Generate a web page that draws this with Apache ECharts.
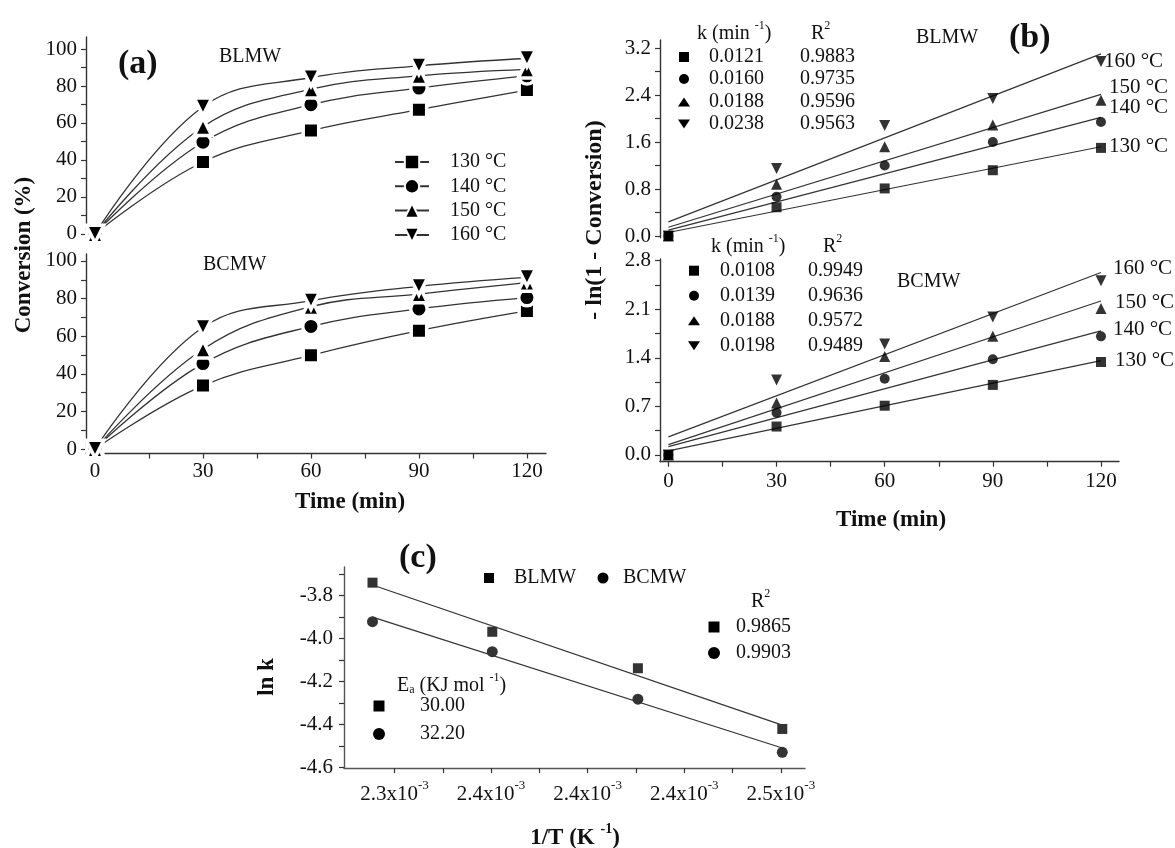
<!DOCTYPE html>
<html><head><meta charset="utf-8">
<script src="https://cdn.jsdelivr.net/npm/echarts@6/dist/echarts.min.js"></script>
<style>html,body{margin:0;padding:0;background:#fff}#c{width:1175px;height:848px}</style>
</head><body><div id="c"></div>
<script>
// ---------- data ----------
const timeMin = [0, 30, 60, 90, 120];
const tempLabels = ['130 °C', '140 °C', '150 °C', '160 °C'];

// (a) conversion (%)
const convBLMW_130 = [0, 38.9, 55.9, 67.2, 77.8];
const convBLMW_140 = [0, 49.6, 69.9, 78.9, 85.5];
const convBLMW_150 = [0, 58.0, 78.3, 85.5, 89.0];
const convBLMW_160 = [0, 68.8, 84.6, 90.9, 95.0];
const convBCMW_130 = [0, 33.7, 49.8, 62.9, 73.4];
const convBCMW_140 = [0, 45.4, 65.2, 74.5, 80.5];
const convBCMW_150 = [0, 53.0, 75.7, 82.4, 88.5];
const convBCMW_160 = [0, 64.7, 78.9, 86.5, 91.3];

// (b) -ln(1 - conversion)
const lnBLMW_130 = [0, 0.49, 0.81, 1.12, 1.50];
const lnBLMW_140 = [0, 0.67, 1.20, 1.60, 1.94];
const lnBLMW_150 = [0, 0.88, 1.52, 1.89, 2.31];
const lnBLMW_160 = [0, 1.15, 1.88, 2.34, 2.97];
const lnBCMW_130 = [0, 0.41, 0.71, 1.01, 1.34];
const lnBCMW_140 = [0, 0.61, 1.10, 1.38, 1.71];
const lnBCMW_150 = [0, 0.75, 1.42, 1.71, 2.11];
const lnBCMW_160 = [0, 1.08, 1.60, 1.99, 2.51];
const fitBLMW_start = [0.06, 0.10, 0.15, 0.24];
const fitBLMW_end = [1.52, 2.02, 2.41, 3.10];
const fitBCMW_start = [0.06, 0.12, 0.15, 0.26];
const fitBCMW_end = [1.36, 1.79, 2.22, 2.63];
const kBLMW = ['0.0121', '0.0160', '0.0188', '0.0238'];
const r2BLMW = ['0.9883', '0.9735', '0.9596', '0.9563'];
const kBCMW = ['0.0108', '0.0139', '0.0188', '0.0198'];
const r2BCMW = ['0.9949', '0.9636', '0.9572', '0.9489'];

// (c) Arrhenius
const invT = [0.0023109, 0.0023605, 0.0024208, 0.0024806];
const lnkBLMW = [-3.739, -3.968, -4.138, -4.421];
const lnkBCMW = [-3.921, -4.061, -4.282, -4.530];
const fitArrBLMW = [-3.750, -4.403];
const fitArrBCMW = [-3.900, -4.510];
const arrR2 = ['0.9865', '0.9903'];
const arrEa = ['30.00', '32.20'];

// ticks
const ticksA_Y = [0, 20, 40, 60, 80, 100];
const minorA_Y = [10, 30, 50, 70, 90];
const ticksTime = [0, 30, 60, 90, 120];
const minorTime = [15, 45, 75, 105];
const ticksB1_Y = [0, 0.8, 1.6, 2.4, 3.2];
const minorB1_Y = [0.4, 1.2, 2.0, 2.8];
const ticksB2_Y = [0, 0.7, 1.4, 2.1, 2.8];
const minorB2_Y = [0.35, 1.05, 1.75, 2.45];
const ticksC_Y = [-4.6, -4.4, -4.2, -4.0, -3.8];
const minorC_Y = [-4.5, -4.3, -4.1, -3.9, -3.7];
const ticksC_X = [0.00232, 0.00236, 0.00240, 0.00244, 0.00248];
const minorC_X = [0.00234, 0.00238, 0.00242, 0.00246];

// ---------- helpers ----------
const FONT = '"Liberation Serif", "Times New Roman", serif';
const INK = '#111';
const syms = ['rect', 'circle', 'triangle', 'triangle'];
const rots = [0, 0, 0, 180];
const pair = (xs, ys) => xs.map((x, i) => [x, ys[i]]);

function valAxis(grid, min, max, ticks, minor, fmt, margin, extra) {
  return Object.assign({
    type: 'value', gridIndex: grid, min, max,
    splitLine: { show: false },
    axisLine: { show: true, onZero: false, lineStyle: { color: '#333', width: 1.4 } },
    axisTick: { show: true, customValues: ticks.concat(minor), length: 5, lineStyle: { color: '#333', width: 1.2 } },
    axisLabel: { show: true, customValues: ticks, formatter: fmt, margin, fontFamily: FONT, fontSize: 21, color: INK }
  }, extra || {});
}
function hiddenAxis(grid, min, max) {
  return { type: 'value', gridIndex: grid, min, max, show: false, splitLine: { show: false } };
}

const xAxis = [
  hiddenAxis(0, -2.5, 125.3),
  valAxis(1, -2.5, 125.3, ticksTime, minorTime, v => String(v), 7),
  hiddenAxis(2, -2.33, 125),
  valAxis(3, -2.33, 125, ticksTime, minorTime, v => String(v), 9),
  valAxis(4, 0.0022991, 0.00249, ticksC_X, minorC_X,
    v => '{n|' + (v * 1000).toFixed(1) + 'x10}{s|-3}', 11,
    { axisLine: { show: true, onZero: false, lineStyle: { color: '#555', width: 1.4 } } })
];
xAxis[4].axisLabel.rich = {
  n: { fontFamily: FONT, fontSize: 21, color: INK, lineHeight: 26, verticalAlign: 'bottom' },
  s: { fontFamily: FONT, fontSize: 13, color: INK, lineHeight: 14, verticalAlign: 'top' }
};

const yAxis = [
  valAxis(0, -2.2, 106.5, ticksA_Y, minorA_Y, v => String(v), 9),
  valAxis(1, -2.4, 103.7, ticksA_Y, minorA_Y, v => String(v), 9),
  valAxis(2, -0.03, 3.336, ticksB1_Y, minorB1_Y, v => v.toFixed(1), 9),
  valAxis(3, -0.097, 2.825, ticksB2_Y, minorB2_Y, v => v.toFixed(1), 9),
  valAxis(4, -4.603, -3.666, ticksC_Y, minorC_Y, v => v.toFixed(1), 11,
    { axisLine: { show: true, onZero: false, lineStyle: { color: '#555', width: 1.4 } } })
];

const series = [];
const convTop = [convBLMW_130, convBLMW_140, convBLMW_150, convBLMW_160];
const convBot = [convBCMW_130, convBCMW_140, convBCMW_150, convBCMW_160];
const symSizeA = [15.5, 16.5, 17.5, 17.5];
[convTop, convBot].forEach((set, g) => {
  set.forEach((d, i) => series.push({
    name: g === 0 ? tempLabels[i] : 'BCMW ' + tempLabels[i],
    type: 'line', xAxisIndex: g, yAxisIndex: g,
    data: pair(timeMin, d), smooth: 0.4,
    symbol: syms[i], symbolRotate: rots[i], symbolSize: symSizeA[i], showAllSymbol: true,
    itemStyle: { color: '#000', borderColor: '#fff', borderWidth: 3.5 },
    lineStyle: { color: '#333', width: 1.3 }, z: 3 + i
  }));
});

const lnTop = [lnBLMW_130, lnBLMW_140, lnBLMW_150, lnBLMW_160];
const lnBot = [lnBCMW_130, lnBCMW_140, lnBCMW_150, lnBCMW_160];
const fitTop = [fitBLMW_start, fitBLMW_end];
const fitBot = [fitBCMW_start, fitBCMW_end];
const endOffTop = [[3, 0], [3, -10], [3, -7], [-2, 8]];
const endOffBot = [[9, 0], [7, -1.5], [9, 2], [7, -4.5]];
[[lnTop, fitTop, endOffTop, 'BLMW'], [lnBot, fitBot, endOffBot, 'BCMW']].forEach(([pts, fit, offs, tag], g) => {
  pts.forEach((d, i) => {
    series.push({
      name: tag + ' fit ' + tempLabels[i], type: 'line', xAxisIndex: 2 + g, yAxisIndex: 2 + g,
      data: [[timeMin[0], fit[0][i]], [timeMin[timeMin.length - 1], fit[1][i]]],
      symbol: 'none', lineStyle: { color: '#333', width: 1.2 }, z: 2,
      endLabel: { show: true, formatter: () => tempLabels[i], offset: offs[i], distance: 5,
        fontFamily: FONT, fontSize: 21, color: INK }
    });
    series.push({
      name: tag + ' pts ' + tempLabels[i], type: 'scatter', xAxisIndex: 2 + g, yAxisIndex: 2 + g,
      data: pair(timeMin, d), symbol: syms[i], symbolRotate: rots[i], symbolSize: i < 2 ? 10 : 11,
      itemStyle: { color: '#000' }, z: 4
    });
  });
});

series.push({ name: 'Arr fit BLMW', type: 'line', xAxisIndex: 4, yAxisIndex: 4,
  data: [[invT[0], fitArrBLMW[0]], [invT[invT.length - 1], fitArrBLMW[1]]],
  symbol: 'none', lineStyle: { color: '#333', width: 1.2 } });
series.push({ name: 'Arr fit BCMW', type: 'line', xAxisIndex: 4, yAxisIndex: 4,
  data: [[invT[0], fitArrBCMW[0]], [invT[invT.length - 1], fitArrBCMW[1]]],
  symbol: 'none', lineStyle: { color: '#333', width: 1.2 } });
series.push({ name: 'BLMW', type: 'scatter', xAxisIndex: 4, yAxisIndex: 4,
  data: pair(invT, lnkBLMW), symbol: 'rect', symbolSize: 10, itemStyle: { color: '#000' } });
series.push({ name: 'BCMW', type: 'scatter', xAxisIndex: 4, yAxisIndex: 4,
  data: pair(invT, lnkBCMW), symbol: 'circle', symbolSize: 11, itemStyle: { color: '#000' } });

// ---------- annotations ----------
const rich = {
  t: { fontFamily: FONT, fontSize: 20, fill: INK, lineHeight: 24, verticalAlign: 'bottom' },
  s: { fontFamily: FONT, fontSize: 12, fill: INK, lineHeight: 12, verticalAlign: 'top' },
  b: { fontFamily: FONT, fontSize: 12, fill: INK, lineHeight: 12, verticalAlign: 'bottom' },
  T: { fontFamily: FONT, fontSize: 23, fontWeight: 'bold', fill: INK, lineHeight: 28, verticalAlign: 'bottom' },
  S: { fontFamily: FONT, fontSize: 14, fontWeight: 'bold', fill: INK, lineHeight: 14, verticalAlign: 'top' }
};
function txt(x, y, text, o) {
  return { type: 'text', x, y, rotation: (o && o.rot) || 0, z: 10,
    style: Object.assign({ text, fontFamily: FONT, fontSize: 20, fill: INK, align: 'left', verticalAlign: 'middle', rich }, (o && o.st) || {}) };
}
function mark(kind, cx, cy, s) {
  const st = { fill: '#000' };
  if (kind === 'rect') return { type: 'rect', z: 10, shape: { x: cx - s / 2, y: cy - s / 2, width: s, height: s }, style: st };
  if (kind === 'circle') return { type: 'circle', z: 10, shape: { cx, cy, r: s / 2 }, style: st };
  const h = s * 0.9, w = s * 0.6;
  if (kind === 'up') return { type: 'polygon', z: 10, shape: { points: [[cx, cy - h / 2], [cx + w, cy + h / 2], [cx - w, cy + h / 2]] }, style: st };
  return { type: 'polygon', z: 10, shape: { points: [[cx, cy + h / 2], [cx + w, cy - h / 2], [cx - w, cy - h / 2]] }, style: st };
}
const kinds = ['rect', 'circle', 'up', 'down'];
const g = [];
// titles
g.push(txt(118, 64, '(a)', { st: { fontSize: 34, fontWeight: 'bold' } }));
g.push(txt(1009, 38, '(b)', { st: { fontSize: 34, fontWeight: 'bold' } }));
g.push(txt(399, 558, '(c)', { st: { fontSize: 34, fontWeight: 'bold' } }));
g.push(txt(219, 57, 'BLMW'));
g.push(txt(203, 265, 'BCMW'));
g.push(txt(916, 38, 'BLMW'));
g.push(txt(897, 282, 'BCMW'));
// axis titles
g.push(txt(24, 255, 'Conversion (%)', { rot: Math.PI / 2, st: { fontSize: 23, fontWeight: 'bold', align: 'center' } }));
g.push(txt(350, 502, 'Time (min)', { st: { fontSize: 23, fontWeight: 'bold', align: 'center' } }));
g.push(txt(595, 220, '- ln(1 - Conversion)', { rot: Math.PI / 2, st: { fontSize: 24, fontWeight: 'bold', align: 'center' } }));
g.push(txt(891, 520, 'Time (min)', { st: { fontSize: 23, fontWeight: 'bold', align: 'center' } }));
g.push(txt(267, 677, 'ln k', { rot: Math.PI / 2, st: { fontSize: 23, fontWeight: 'bold', align: 'center' } }));
g.push(txt(575, 836, '{T|1/T (K }{S|-1}{T|)}', { st: { align: 'center' } }));
// (b) tables
g.push(txt(697, 32, '{t|k (min }{s|-1}{t|)}'));
g.push(txt(811, 32, '{t|R}{s|2}'));
[57, 79, 102, 124].forEach((y, i) => {
  g.push(mark(kinds[i], 684, y, 10));
  g.push(txt(709, y, kBLMW[i]));
  g.push(txt(800, y, r2BLMW[i]));
});
g.push(txt(711, 245, '{t|k (min }{s|-1}{t|)}'));
g.push(txt(823, 245, '{t|R}{s|2}'));
[270.7, 295.7, 320.7, 345.7].forEach((y, i) => {
  g.push(mark(kinds[i], 694, y, 10));
  g.push(txt(720, y, kBCMW[i]));
  g.push(txt(808, y, r2BCMW[i]));
});
// (c) annotations
g.push(mark('rect', 489, 578, 10));
g.push(txt(514, 578, 'BLMW'));
g.push(mark('circle', 603, 578, 11));
g.push(txt(623, 578, 'BCMW'));
g.push(txt(751, 600, '{t|R}{s|2}'));
g.push(mark('rect', 714, 627, 11));
g.push(txt(736, 627, arrR2[0]));
g.push(mark('circle', 714, 653, 12));
g.push(txt(736, 653, arrR2[1]));
g.push(txt(397, 684, '{t|E}{b|a}{t| (KJ mol }{s|-1}{t|)}'));
g.push(mark('rect', 379, 706, 11));
g.push(txt(420, 706, arrEa[0]));
g.push(mark('circle', 379, 734, 12));
g.push(txt(420, 734, arrEa[1]));

const option = {
  animation: false,
  backgroundColor: '#fff',
  grid: [
    { left: 86, top: 37, width: 460, height: 201 },
    { left: 86, top: 254, width: 460, height: 199.5 },
    { left: 660, top: 40, width: 459, height: 197.8 },
    { left: 660, top: 259, width: 459, height: 202.7 },
    { left: 344, top: 567, width: 461, height: 201 }
  ],
  xAxis, yAxis, series,
  legend: {
    data: tempLabels, orient: 'vertical', left: 389, top: 147,
    itemWidth: 34, itemHeight: 18, itemGap: 4.3,
    selectedMode: false,
    textStyle: { fontFamily: FONT, fontSize: 20, color: INK, lineHeight: 20, padding: [0, 0, 0, 16] }
  },
  graphic: g
};
const chart = echarts.init(document.getElementById('c'), null, { renderer: 'canvas' });
chart.setOption(option);
</script></body></html>
